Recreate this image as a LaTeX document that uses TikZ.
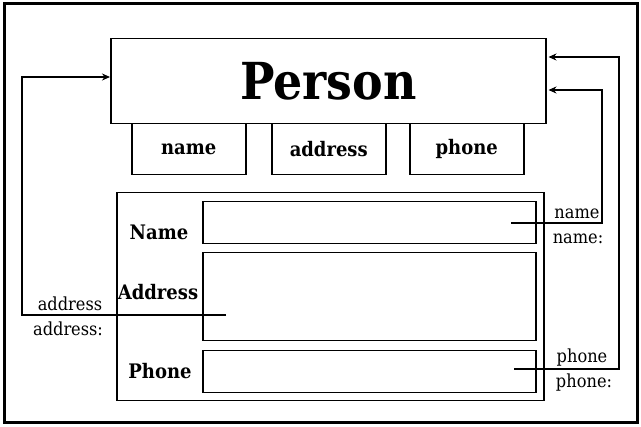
\documentclass[tikz,border=0pt]{standalone}
\usepackage{fontspec}
\setmainfont{DejaVu Serif}
\newfontfamily\slabc{DejaVu Serif Condensed}
\usetikzlibrary{arrows.meta}
\begin{document}
\begin{tikzpicture}[x=1pt,y=-1pt,
  frame/.style={draw,line width=3pt},
  box/.style={draw,line width=1.5pt,inner sep=0pt,anchor=north west},
  conn/.style={draw,line width=1.3pt},
  arr/.style={conn,-{Stealth[length=8pt,width=7pt]}},
  title/.style={font=\slabc\bfseries\fontsize{51}{55}\selectfont},
  attr/.style={font=\slabc\bfseries\fontsize{20}{24}\selectfont},
  lab/.style={font=\slabc\bfseries\fontsize{20}{24}\selectfont},
  small/.style={font=\slabc\fontsize{18}{21}\selectfont,inner sep=0pt,anchor=base}]
\useasboundingbox (0,0) rectangle (641,427);
\draw[frame] (4,4) rectangle (637,423);
% Person class
\node[box,minimum width=435pt,minimum height=85pt] (person) at (110,38) {};
\node[title] (ptitle) at (person.center) {Person};
\node[box,minimum width=114pt,minimum height=51pt] (nameb) at (131,123) {};
\node[attr] (namet) at (nameb.center) {name};
\node[box,minimum width=114pt,minimum height=51pt] (addrb) at (271,123) {};
\node[attr] (addrt) at (addrb.center) {address};
\node[box,minimum width=114pt,minimum height=51pt] (phoneb) at (409,123) {};
\node[attr] (phonet) at (phoneb.center) {phone};
% form
\node[box,minimum width=427pt,minimum height=208pt] (form) at (116,192) {};
\node[box,minimum width=333pt,minimum height=42pt] (namef) at (202,201) {};
\node[box,minimum width=333pt,minimum height=88pt] (addrf) at (202,252) {};
\node[box,minimum width=333pt,minimum height=42pt] (phonef) at (202,350) {};
\node[lab] (namel) at (159,232) {Name};
\node[lab] (addrl) at (158,292) {Address};
\node[lab] (phonel) at (160,371) {Phone};
% connectors
\coordinate (as) at (226,315);
\coordinate (a1) at (22,315);
\coordinate (a2) at (22,77);
\draw[arr] (as) -- (a1) -- (a2) -- (person.west |- a2);
\coordinate (ns) at (511,223);
\coordinate (n1) at (602,223);
\coordinate (n2) at (602,90);
\draw[arr] (ns) -- (n1) -- (n2) -- ([xshift=2pt]person.east |- n2);
\coordinate (ps) at (514,369);
\coordinate (p1) at (619,369);
\coordinate (p2) at (619,57);
\draw[arr] (ps) -- (p1) -- (p2) -- ([xshift=2pt]person.east |- p2);
% labels
\node[small] (al1) at (70,311) {address};
\node[small] (al2) at (68,336) {address:};
\node[small] (nl1) at (577,219) {name};
\node[small] (nl2) at (578,244) {name:};
\node[small] (pl1) at (582,363) {phone};
\node[small] (pl2) at (584,388) {phone:};
\end{tikzpicture}
\end{document}
